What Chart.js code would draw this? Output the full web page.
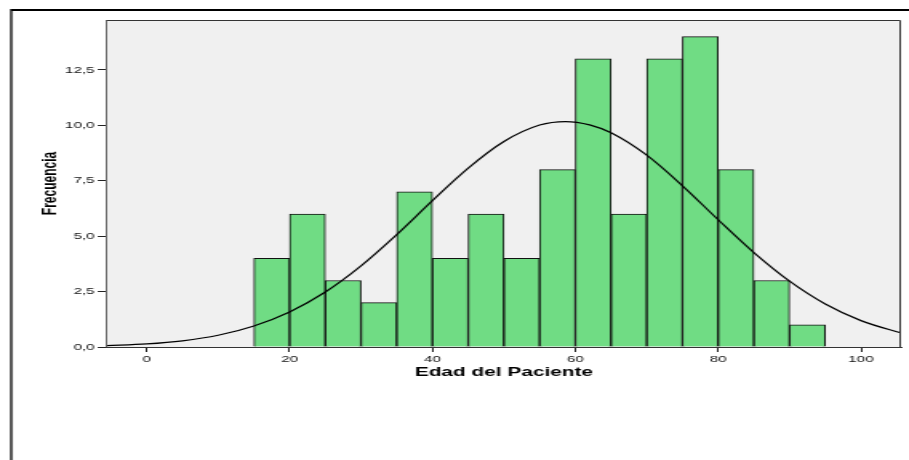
<!DOCTYPE html>
<html>
<head>
<meta charset="utf-8">
<script src="https://cdn.jsdelivr.net/npm/chart.js@4/dist/chart.umd.min.js"></script>
<style>
  html, body { margin: 0; padding: 0; background: #fff; overflow: hidden; }
  /* the chart is laid out at 568px wide and widened to fill the 909px page */
  #wrap { position: absolute; left: 0; top: 0; width: 568px; height: 460px;
          transform: scale(1.60035, 1); transform-origin: 0 0; }
</style>
</head>
<body>
<div id="wrap"><canvas id="c"></canvas></div>
<script>
// Age bins (5 years wide): centres and patient counts
const binCenters = [17.5, 22.5, 27.5, 32.5, 37.5, 42.5, 47.5, 52.5, 57.5, 62.5, 67.5, 72.5, 77.5, 82.5, 87.5, 92.5];
const binCounts  = [4, 6, 3, 2, 7, 4, 6, 4, 8, 13, 6, 13, 14, 8, 3, 1];

// Fitted normal curve, sampled along the age axis
const curveX = [-5.6, 0, 5, 10, 15, 20, 25, 30, 35, 40, 45, 50, 55, 58.6, 62, 65, 70, 75, 80, 85, 90, 95, 100, 105, 105.6];
const curveY = [0.06, 0.14, 0.28, 0.53, 0.95, 1.58, 2.48, 3.66, 5.07, 6.60, 8.07, 9.27, 10.01, 10.17, 10.02, 9.66, 8.65, 7.27, 5.74, 4.26, 2.97, 1.94, 1.19, 0.69, 0.64];

// Axis ticks
const xTicks = [0, 20, 40, 60, 80, 100];
const yTicks = [0, 2.5, 5, 7.5, 10, 12.5];

const FONT = "'Liberation Sans', Arial, Helvetica, sans-serif";

const plotFrame = {
  id: 'plotFrame',
  beforeDatasetsDraw(chart) {
    const { ctx, chartArea: a } = chart;
    ctx.save();
    ctx.fillStyle = '#f0f0f0';
    ctx.fillRect(a.left, a.top, a.right - a.left, a.bottom - a.top);
    ctx.restore();
  },
  afterDraw(chart) {
    const { ctx, chartArea: a } = chart;
    ctx.save();
    ctx.strokeStyle = '#333';
    ctx.lineWidth = 1;
    ctx.beginPath();
    ctx.moveTo(a.left, a.top + 0.5);
    ctx.lineTo(a.right - 0.5, a.top + 0.5);
    ctx.lineTo(a.right - 0.5, a.bottom);
    ctx.stroke();
    // outer page frame
    ctx.strokeStyle = '#000';
    ctx.lineWidth = 2;
    ctx.beginPath();
    ctx.moveTo(6.9, 10);
    ctx.lineTo(chart.width, 10);
    ctx.stroke();
    ctx.lineWidth = 1.3;
    ctx.beginPath();
    ctx.moveTo(7.0, 9);
    ctx.lineTo(7.0, chart.height);
    ctx.stroke();
    ctx.restore();
  }
};

new Chart(document.getElementById('c'), {
  data: {
    datasets: [
      {
        type: 'line',
        order: 0,
        data: curveX.map((x, i) => ({ x, y: curveY[i] })),
        borderColor: '#000',
        borderWidth: 1.2,
        pointRadius: 0,
        cubicInterpolationMode: 'monotone',
        fill: false
      },
      {
        type: 'bar',
        order: 1,
        data: binCenters.map((x, i) => ({ x, y: binCounts[i] })),
        backgroundColor: '#70dc84',
        borderColor: '#111',
        borderWidth: 1,
        barPercentage: 1,
        categoryPercentage: 1
      }
    ]
  },
  plugins: [plotFrame],
  options: {
    responsive: true,
    maintainAspectRatio: false,
    devicePixelRatio: 1,
    animation: false,
    events: [],
    layout: { padding: { left: 0, top: 20, right: 5, bottom: 73 } },
    plugins: { legend: { display: false }, tooltip: { enabled: false } },
    scales: {
      x: {
        type: 'linear',
        offset: false,
        min: -5.6,
        max: 105.6,
        afterBuildTicks: s => { s.ticks = xTicks.map(v => ({ value: v })); },
        afterFit: s => { s.height = 40; },
        grid: { display: true, offset: false, drawOnChartArea: false, drawTicks: true, tickLength: 5, tickColor: '#222', tickWidth: 1 },
        border: { display: true, color: '#333', width: 1 },
        ticks: { autoSkip: false, maxRotation: 0, padding: 2, color: '#111',
                 font: { family: FONT, size: 9.5 }, callback: v => String(v) },
        title: { display: true, text: 'Edad del Paciente', color: '#000',
                 font: { family: FONT, size: 13, weight: 'bold' }, padding: { top: 0, bottom: 6.7 } }
      },
      y: {
        type: 'linear',
        min: 0,
        max: 14.75,
        afterBuildTicks: s => { s.ticks = yTicks.map(v => ({ value: v })); },
        afterFit: s => { s.width = 66.7; },
        grid: { display: true, drawOnChartArea: false, drawTicks: true, tickLength: 5.6, tickColor: '#222', tickWidth: 1 },
        border: { display: true, color: '#333', width: 1 },
        ticks: { autoSkip: false, padding: 2, color: '#111',
                 font: { family: FONT, size: 9.5 },
                 callback: v => Number(v).toFixed(1).replace('.', ',') },
        title: { display: true, text: 'Frecuencia', color: '#000',
                 font: { family: FONT, size: 12, weight: 'bold' }, padding: { top: 24.4, bottom: 0 } }
      }
    }
  }
});
</script>
</body>
</html>
